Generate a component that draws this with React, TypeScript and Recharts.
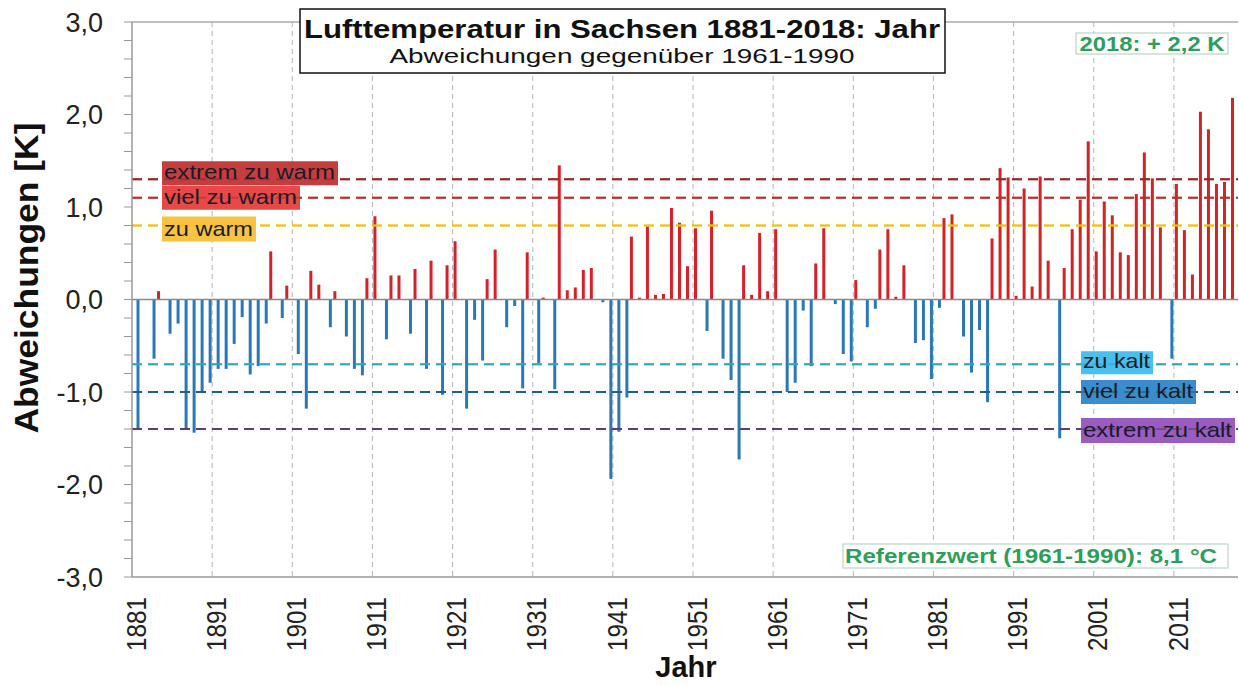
import React from "react";
import { BarChart, Bar, XAxis, YAxis, CartesianGrid, ReferenceLine } from "recharts";

const years = [
  1881, 1882, 1883, 1884, 1885, 1886, 1887, 1888, 1889, 1890,
  1891, 1892, 1893, 1894, 1895, 1896, 1897, 1898, 1899, 1900,
  1901, 1902, 1903, 1904, 1905, 1906, 1907, 1908, 1909, 1910,
  1911, 1912, 1913, 1914, 1915, 1916, 1917, 1918, 1919, 1920,
  1921, 1922, 1923, 1924, 1925, 1926, 1927, 1928, 1929, 1930,
  1931, 1932, 1933, 1934, 1935, 1936, 1937, 1938, 1939, 1940,
  1941, 1942, 1943, 1944, 1945, 1946, 1947, 1948, 1949, 1950,
  1951, 1952, 1953, 1954, 1955, 1956, 1957, 1958, 1959, 1960,
  1961, 1962, 1963, 1964, 1965, 1966, 1967, 1968, 1969, 1970,
  1971, 1972, 1973, 1974, 1975, 1976, 1977, 1978, 1979, 1980,
  1981, 1982, 1983, 1984, 1985, 1986, 1987, 1988, 1989, 1990,
  1991, 1992, 1993, 1994, 1995, 1996, 1997, 1998, 1999, 2000,
  2001, 2002, 2003, 2004, 2005, 2006, 2007, 2008, 2009, 2010,
  2011, 2012, 2013, 2014, 2015, 2016, 2017, 2018,
];

// Abweichung vom Mittel 1961-1990 in K
const anomalies = [
  -1.39, 0.0, -0.64, 0.09, -0.37, -0.26, -1.4, -1.44, -0.99, -0.9,
  -0.75, -0.75, -0.48, -0.19, -0.81, -0.72, -0.26, 0.52, -0.2, 0.15,
  -0.59, -1.18, 0.31, 0.16, -0.3, 0.09, -0.4, -0.75, -0.82, 0.23,
  0.9, -0.43, 0.26, 0.26, -0.37, 0.33, -0.75, 0.42, -1.03, 0.37,
  0.63, -1.18, -0.22, -0.66, 0.22, 0.54, -0.3, -0.07, -0.96, 0.51,
  -0.69, 0.02, -0.97, 1.45, 0.1, 0.13, 0.32, 0.34, -0.03, -1.94,
  -1.43, -1.06, 0.68, 0.02, 0.79, 0.05, 0.06, 0.99, 0.83, 0.36,
  0.77, -0.34, 0.96, -0.64, -0.87, -1.73, 0.37, 0.05, 0.72, 0.09,
  0.76, -1.0, -0.9, -0.12, -0.72, 0.39, 0.77, -0.05, -0.59, -0.67,
  0.21, -0.3, -0.1, 0.54, 0.76, 0.03, 0.37, -0.47, -0.44, -0.86,
  -0.09, 0.88, 0.92, -0.4, -0.79, -0.33, -1.11, 0.66, 1.42, 1.32,
  0.04, 1.2, 0.14, 1.33, 0.42, -1.5, 0.34, 0.76, 1.08, 1.71,
  0.52, 1.06, 0.91, 0.51, 0.48, 1.14, 1.59, 1.31, 0.78, -0.64,
  1.25, 0.75, 0.27, 2.03, 1.84, 1.25, 1.27, 2.18,
];

const yTicks = [
  -3, -2.8, -2.6, -2.4, -2.2, -2, -1.8, -1.6, -1.4, -1.2, -1, -0.8, -0.6, -0.4, -0.2,
  0, 0.2, 0.4, 0.6, 0.8, 1, 1.2, 1.4, 1.6, 1.8, 2, 2.2, 2.4, 2.6, 2.8, 3,
];

const thresholdValues = [1.3, 1.1, 0.8, -0.7, -1.0, -1.4];
const thresholdLabels = [
  "extrem zu warm",
  "viel zu warm",
  "zu warm",
  "zu kalt",
  "viel zu kalt",
  "extrem zu kalt",
];

const thresholdStyles = [
  { line: "#9a2427", box: "#c63d3d", side: "left", top: -18, h: 24, len: 171 },
  { line: "#b8302f", box: "#e84848", side: "left", top: -12, h: 24, len: 133 },
  { line: "#f0c20c", box: "#f6c342", side: "left", top: -9, h: 25, len: 89 },
  { line: "#34a6bb", box: "#48bfec", side: "right", top: -13, h: 23, len: 67 },
  { line: "#1f5f84", box: "#3a8dcd", side: "right", top: -12, h: 24, len: 110 },
  { line: "#5d3b7e", box: "#9a5cc0", side: "right", top: -11, h: 25, len: 149 },
];

const data = years.map((year, i) => ({
  year,
  warm: anomalies[i] > 0 ? anomalies[i] : null,
  kalt: anomalies[i] < 0 ? anomalies[i] : null,
}));

const FONT = "'Liberation Sans', Arial, sans-serif";

const ThresholdLabel = (props: any) => {
  const { viewBox, idx } = props;
  if (!viewBox) return null;
  const s = thresholdStyles[idx];
  const bx = s.side === "left" ? viewBox.x + 30 : viewBox.x + viewBox.width - 157;
  const by = viewBox.y + s.top;
  return (
    <g>
      <rect x={bx} y={by} width={s.len + 5} height={s.h} fill={s.box} />
      <line
        x1={viewBox.x}
        x2={viewBox.x + viewBox.width}
        y1={viewBox.y}
        y2={viewBox.y}
        stroke={s.line}
        strokeWidth={2}
        strokeDasharray="10 6"
        opacity={0.6}
      />
      <text
        x={bx + 2}
        y={by + s.h - 6}
        fontFamily={FONT}
        fontSize={21}
        fill="#1b1b26"
        textLength={s.len}
        lengthAdjust="spacingAndGlyphs"
      >
        {thresholdLabels[idx]}
      </text>
    </g>
  );
};

const YTick = (props: any) => {
  const { x, y, payload } = props;
  const v = payload.value;
  if (Math.abs(v - Math.round(v)) > 1e-6) return null;
  return (
    <text x={x - 21} y={y} dy="0.36em" textAnchor="end" fontFamily={FONT} fontSize={27} fill="#222">
      {v.toFixed(1).replace(".", ",")}
    </text>
  );
};

const XTick = (props: any) => {
  const { x, y, payload } = props;
  const ty = y + 20;
  return (
    <text
      x={x}
      y={ty}
      dy="0.36em"
      textAnchor="end"
      transform={`rotate(-90, ${x}, ${ty})`}
      fontFamily={FONT}
      fontSize={27}
      fill="#222"
      textLength={54}
      lengthAdjust="spacingAndGlyphs"
    >
      {payload.value}
    </text>
  );
};

const decadeLines = ({ offset }: any) => {
  const step = offset.width / years.length;
  return years
    .map((y, i) => ((y - 1881) % 10 === 0 && i > 0 ? offset.left + i * step : null))
    .filter((v) => v !== null) as number[];
};

export default function App() {
  return (
    <div style={{ position: "absolute", left: 0, top: 0, width: 1239, height: 685, background: "#fff" }}>
      <BarChart
        width={1239}
        height={685}
        data={data}
        margin={{ top: 22, right: 1, bottom: 0, left: 0 }}
        barSize={3}
        barGap={0.5}
      >
        <CartesianGrid
          horizontal={false}
          vertical
          stroke="#b5b5b5"
          strokeDasharray="5 4"
          verticalCoordinatesGenerator={decadeLines}
        />
        <XAxis
          dataKey="year"
          interval={9}
          height={108}
          tickLine={false}
          tickSize={0}
          tickMargin={0}
          axisLine={{ stroke: "#999", strokeWidth: 1.5 }}
          tick={<XTick />}
        />
        <YAxis
          type="number"
          domain={[-3, 3]}
          ticks={yTicks}
          interval={0}
          width={132}
          tickSize={8}
          tickMargin={0}
          tickLine={{ stroke: "#999" }}
          axisLine={{ stroke: "#999", strokeWidth: 1.5 }}
          tick={<YTick />}
        />
        <ReferenceLine y={3} stroke="#aaa" strokeWidth={1.5} />
        <ReferenceLine y={0} stroke="#8a8a8a" strokeWidth={1.5} />
        <Bar dataKey="warm" fill="#d42229" isAnimationActive={false} />
        <Bar dataKey="kalt" fill="#2a79b4" isAnimationActive={false} />
        {thresholdValues.map((v, i) => (
          <ReferenceLine
            key={thresholdLabels[i]}
            y={v}
            stroke={thresholdStyles[i].line}
            strokeWidth={2}
            strokeDasharray="10 6"
            label={<ThresholdLabel idx={i} />}
          />
        ))}
      </BarChart>
      <svg
        width={1239}
        height={685}
        style={{ position: "absolute", left: 0, top: 0, pointerEvents: "none" }}
        fontFamily={FONT}
      >
        <rect x={300} y={9} width={645} height={64} fill="#fff" stroke="#111" strokeWidth={1.5} />
        <text x={622} y={38} textAnchor="middle" fontSize={26} fontWeight="bold" fill="#111" textLength={636} lengthAdjust="spacingAndGlyphs">
          Lufttemperatur in Sachsen 1881-2018: Jahr
        </text>
        <text x={622} y={63} textAnchor="middle" fontSize={20} fill="#111" textLength={465} lengthAdjust="spacingAndGlyphs">
          Abweichungen  gegenüber  1961-1990
        </text>
        <rect x={1076} y={33} width={152} height={21} fill="#fff" stroke="#b9d7c6" strokeWidth={1.2} />
        <text x={1152} y={51} textAnchor="middle" fontSize={20} fontWeight="bold" fill="#2e9e5b" textLength={145} lengthAdjust="spacingAndGlyphs">
          2018: + 2,2 K
        </text>
        <rect x={843} y={544} width={385} height={24} fill="#fff" stroke="#b9d7c6" strokeWidth={1.2} />
        <text x={1031} y={563} textAnchor="middle" fontSize={21} fontWeight="bold" fill="#2e9e5b" textLength={372} lengthAdjust="spacingAndGlyphs">
          Referenzwert (1961-1990): 8,1 °C
        </text>
        <text
          x={38}
          y={278}
          textAnchor="middle"
          transform="rotate(-90, 38, 278)"
          fontSize={33}
          fontWeight="bold"
          fill="#111"
          textLength={311}
          lengthAdjust="spacingAndGlyphs"
        >
          Abweichungen [K]
        </text>
        <text x={686} y={677} textAnchor="middle" fontSize={29} fontWeight="bold" fill="#111">
          Jahr
        </text>
      </svg>
    </div>
  );
}
